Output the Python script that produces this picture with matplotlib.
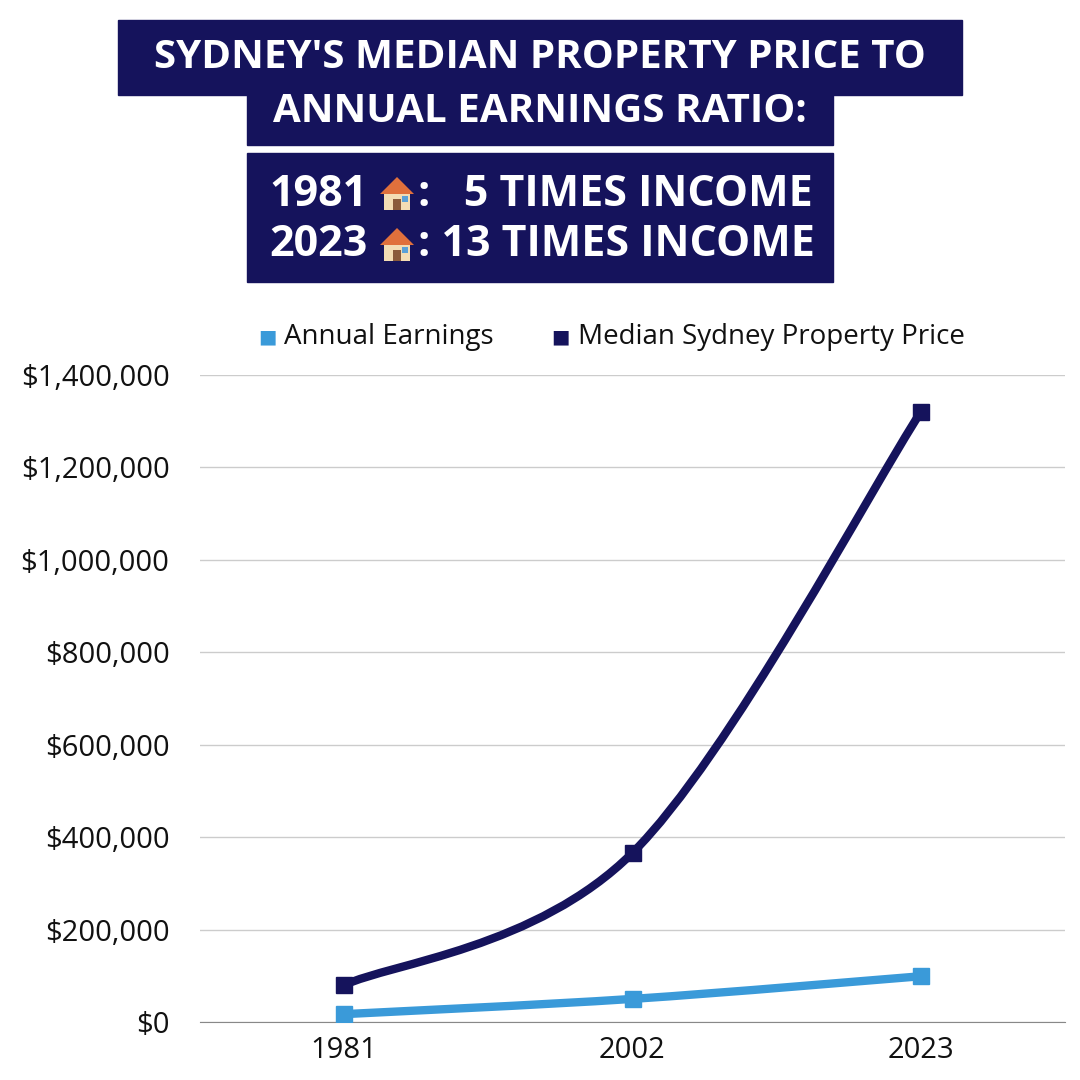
import matplotlib
matplotlib.use("Agg")
import matplotlib.pyplot as plt
from matplotlib.path import Path
from matplotlib.patches import PathPatch, Rectangle, Polygon
from matplotlib.ticker import FuncFormatter

years = ["1981", "2002", "2023"]
earnings = [17000, 50000, 99000]
property_price = [80000, 366000, 1320000]

NAVY = "#15135c"
LIGHT = "#3a9ad9"
plt.rcParams['font.family'] = ['Open Sans', 'DejaVu Sans']

fig = plt.figure(figsize=(10.8, 10.8), dpi=100)
ax = fig.add_axes([200/1080, 1-1022/1080, 865/1080, (1022-375)/1080])
x = list(range(len(years)))

def smooth(ax, xs, ys, color, lw):
    verts = [(xs[0], ys[0])]; codes = [Path.MOVETO]
    n = len(xs)
    for i in range(n-1):
        p0 = (xs[i-1], ys[i-1]) if i > 0 else (xs[i], ys[i])
        p3 = (xs[i+2], ys[i+2]) if i+2 < n else (xs[i+1], ys[i+1])
        p1 = (xs[i], ys[i]); p2 = (xs[i+1], ys[i+1])
        c1 = (p1[0]+(p2[0]-p0[0])/6, p1[1]+(p2[1]-p0[1])/6)
        c2 = (p2[0]-(p3[0]-p1[0])/6, p2[1]-(p3[1]-p1[1])/6)
        verts += [c1, c2, p2]; codes += [Path.CURVE4]*3
    ax.add_patch(PathPatch(Path(verts, codes), fc='none', ec=color, lw=lw, capstyle='round', zorder=3))

smooth(ax, x, earnings, LIGHT, 6)
smooth(ax, x, property_price, NAVY, 6)
ax.plot(x, earnings, 's', color=LIGHT, ms=11, zorder=4)
ax.plot(x, property_price, 's', color=NAVY, ms=11, zorder=4)

ax.set_xlim(-0.5, 2.5)
ax.set_ylim(0, 1400000)
ax.set_yticks(range(0, 1400001, 200000))
ax.yaxis.set_major_formatter(FuncFormatter(lambda v, p: f"${v:,.0f}"))
ax.set_xticks(x); ax.set_xticklabels(years)
ax.grid(axis='y', color='#cccccc', lw=1)
ax.set_axisbelow(True)
for s in ['top', 'right', 'left']:
    ax.spines[s].set_visible(False)
ax.spines['bottom'].set_color('#888888')
ax.tick_params(length=0, labelsize=21, colors='#111111')
ax.tick_params(axis='y', pad=22)
ax.tick_params(axis='x', pad=10)

fig.text(258/1080, 1-337/1080, "■", color=LIGHT, fontsize=14, va='center', ha='left')
fig.text(284/1080, 1-337/1080, "Annual Earnings", fontsize=20, va='center', ha='left', color='#111111')
fig.text(551/1080, 1-337/1080, "■", color=NAVY, fontsize=14, va='center', ha='left')
fig.text(578/1080, 1-337/1080, "Median Sydney Property Price", fontsize=20, va='center', ha='left', color='#111111')

for (x0, y0, x1, y1) in [(118, 20, 962, 95), (247, 94, 833, 145), (247, 153, 833, 282)]:
    fig.patches.append(Rectangle((x0/1080, 1-y1/1080), (x1-x0)/1080, (y1-y0)/1080,
                                 transform=fig.transFigure, color=NAVY, zorder=0))
tk = dict(color='white', fontsize=29, fontweight='bold', ha='center', va='center')
fig.text(540/1080, 1-58/1080, "SYDNEY'S MEDIAN PROPERTY PRICE TO", **tk)
fig.text(540/1080, 1-112/1080, "ANNUAL EARNINGS RATIO:", **tk)

def house(cx, cy):
    def P(px, py):
        return ((cx+px)/1080, 1-(cy+py)/1080)
    fig.patches.append(Polygon([P(-13, -2), P(13, -2), P(13, 16), P(-13, 16)], closed=True,
                               transform=fig.transFigure, fc='#f3dcb4', ec='none', zorder=2))
    fig.patches.append(Polygon([P(-17, 0), P(0, -17), P(17, 0)], closed=True,
                               transform=fig.transFigure, fc='#e0703c', ec='none', zorder=3))
    fig.patches.append(Rectangle(P(-4, 16), 8/1080, 11/1080, transform=fig.transFigure,
                                 fc='#8a5a3c', zorder=3))
    fig.patches.append(Rectangle(P(5, 8), 6/1080, 6/1080, transform=fig.transFigure,
                                 fc='#5aa0d8', zorder=3))

tk2 = dict(color='white', fontsize=31, fontweight='bold', va='center')
for yy, yr, rest in [(194, "1981", ":   5 TIMES INCOME"), (245, "2023", ": 13 TIMES INCOME")]:
    fig.text(368/1080, 1-yy/1080, yr, ha='right', **tk2)
    house(397, yy)
    fig.text(418/1080, 1-yy/1080, rest, ha='left', **tk2)

fig.savefig("out.png", dpi=100, facecolor='white')
